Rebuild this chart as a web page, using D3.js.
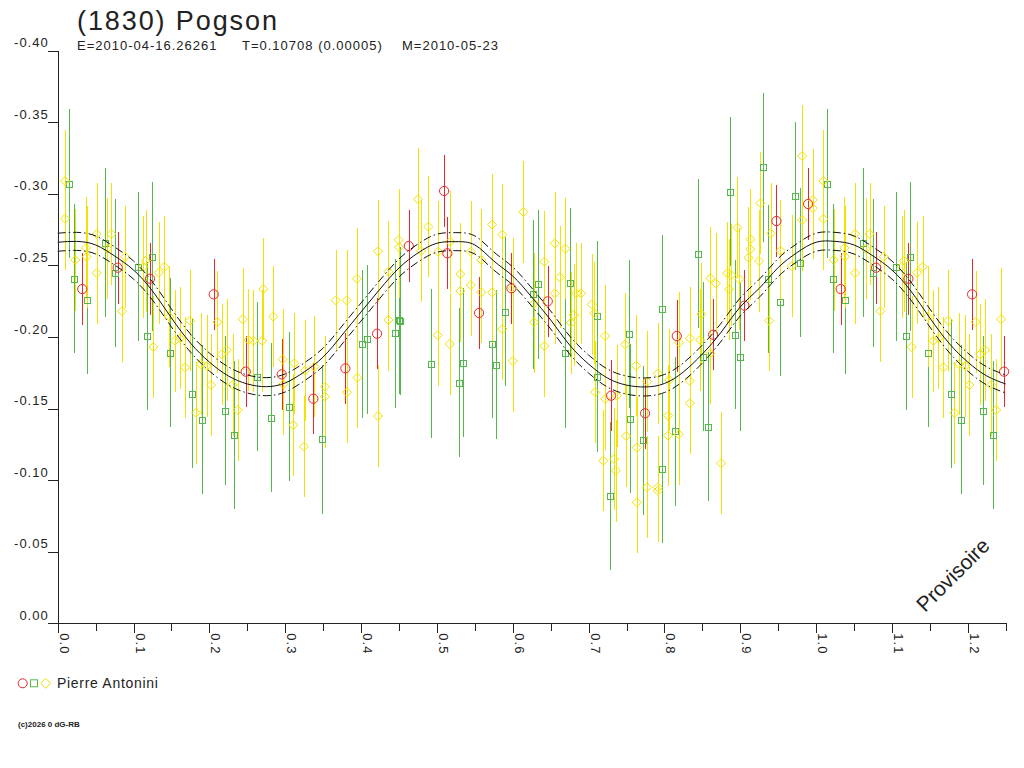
<!DOCTYPE html>
<html>
<head>
<meta charset="utf-8">
<script src="https://cdn.jsdelivr.net/npm/d3@7"></script>
<style>
body { margin: 0; background: #fff; }
text { font-family: "Liberation Sans", Arial, sans-serif; fill: #222; }
</style>
</head>
<body>
<div id="chart"></div>
<script>

const titleText = "(1830) Pogson";
const subtitleParts = ["E=2010-04-16.26261", "T=0.10708 (0.00005)", "M=2010-05-23"];
const observerName = "Pierre Antonini";
const creditText = "(c)2026 0 dG-RB";
const stampText = "Provisoire";

// axis ticks
const xTicks = [0, 0.05, 0.1, 0.15, 0.2, 0.25, 0.3, 0.35, 0.4, 0.45, 0.5, 0.55, 0.6,
    0.65, 0.7, 0.75, 0.8, 0.85, 0.9, 0.95, 1.0, 1.05, 1.1, 1.15, 1.2, 1.25];
const yTicks = [0, -0.05, -0.10, -0.15, -0.20, -0.25, -0.30, -0.35, -0.40];

// phases below this are drawn a second time after phase 1
const repeatUntil = 0.25;

// error bar half sizes per symbol
const circleErr = 0.025;
const squareErr = 0.052;
const diamondErr = 0.0355;

// observations [phase, relative magnitude]
const circles = [
    [0.0324, -0.2335], [0.0791, -0.2484], [0.1217, -0.2407], [0.2057, -0.2298], [0.2479, -0.1758],
    [0.2954, -0.1739], [0.3371, -0.1569], [0.3793, -0.1781], [0.4211, -0.2023], [0.4629, -0.2636],
    [0.5095, -0.3020], [0.5138, -0.2585], [0.5556, -0.2168], [0.5982, -0.2340], [0.6462, -0.2249],
    [0.7297, -0.1590], [0.7745, -0.1467], [0.8163, -0.2007], [0.8642, -0.2016], [0.9055, -0.2219],
    [0.9477, -0.2810], [0.9895, -0.2929]
];

const squares = [
    [0.0149, -0.3071], [0.0219, -0.2407], [0.0382, -0.2261], [0.0624, -0.2659], [0.0756, -0.2447],
    [0.1055, -0.2491], [0.1240, -0.2561], [0.1182, -0.2007], [0.1477, -0.1890], [0.1775, -0.1604],
    [0.1907, -0.1422], [0.2202, -0.1485], [0.2329, -0.1315], [0.2632, -0.1723], [0.2809, -0.1436],
    [0.3054, -0.1513], [0.3482, -0.1285], [0.4017, -0.1951], [0.4083, -0.1984], [0.4448, -0.2026],
    [0.4501, -0.2119], [0.4514, -0.2112], [0.4919, -0.1813], [0.5349, -0.1820], [0.5296, -0.1681],
    [0.5724, -0.1953], [0.5776, -0.1807], [0.5903, -0.2177], [0.6264, -0.2298], [0.6334, -0.2368],
    [0.6686, -0.1886], [0.6756, -0.2379], [0.7112, -0.2149], [0.7116, -0.1718], [0.7288, -0.0889],
    [0.7534, -0.2021], [0.7547, -0.1429], [0.7715, -0.1280], [0.7969, -0.2194], [0.7974, -0.1080],
    [0.8145, -0.1341], [0.8448, -0.2582], [0.8506, -0.1862], [0.8572, -0.1373], [0.8870, -0.3015],
    [0.8936, -0.2016], [0.8998, -0.1862], [0.9298, -0.3185], [0.9363, -0.2405], [0.9530, -0.2247],
    [0.9719, -0.2985], [0.9785, -0.2519]
];

const diamonds = [
    [0.0096, -0.3090], [0.0096, -0.2826], [0.0232, -0.2538], [0.0373, -0.2622], [0.0382, -0.2561],
    [0.0514, -0.2720], [0.0514, -0.2447], [0.0654, -0.2617], [0.0707, -0.2720], [0.0892, -0.2561],
    [0.0848, -0.2180], [0.1161, -0.2533], [0.1129, -0.2491], [0.1261, -0.1930], [0.1332, -0.2449],
    [0.1406, -0.2491], [0.1472, -0.2142], [0.1547, -0.1974], [0.1613, -0.1991], [0.1679, -0.1788],
    [0.1745, -0.2114], [0.1824, -0.1471], [0.1886, -0.1811], [0.1965, -0.1797], [0.2022, -0.1665],
    [0.2105, -0.2105], [0.2163, -0.1879], [0.2229, -0.1909], [0.2308, -0.1665], [0.2374, -0.1490],
    [0.2440, -0.2124], [0.2514, -0.1979], [0.2580, -0.1974], [0.2711, -0.2335], [0.2698, -0.1974],
    [0.2843, -0.2142], [0.2967, -0.1844], [0.2975, -0.1670], [0.3107, -0.1385], [0.3120, -0.1816],
    [0.3248, -0.1234], [0.3261, -0.1765], [0.3384, -0.1793], [0.3525, -0.1653], [0.3525, -0.1583],
    [0.3666, -0.2256], [0.3811, -0.2256], [0.3815, -0.1614], [0.3947, -0.2407], [0.3951, -0.1716],
    [0.4224, -0.2599], [0.4224, -0.1448], [0.4360, -0.2456], [0.4360, -0.2119], [0.4497, -0.2678],
    [0.4501, -0.2627], [0.4752, -0.2962], [0.4791, -0.2601], [0.4888, -0.2771], [0.5011, -0.2012],
    [0.5019, -0.2596], [0.5174, -0.2666], [0.5170, -0.1951], [0.5309, -0.2440], [0.5309, -0.2321],
    [0.5447, -0.2596], [0.5447, -0.2363], [0.5586, -0.2538], [0.5586, -0.2312], [0.5728, -0.2785],
    [0.5728, -0.2312], [0.5863, -0.2715], [0.5863, -0.2056], [0.6001, -0.2340], [0.6001, -0.1832],
    [0.6140, -0.2875], [0.6281, -0.2235], [0.6281, -0.2103], [0.6417, -0.2526], [0.6417, -0.1937],
    [0.6554, -0.2655], [0.6554, -0.2305], [0.6620, -0.2417], [0.6694, -0.2617], [0.6769, -0.2100],
    [0.6805, -0.2154], [0.6839, -0.2305], [0.6901, -0.2305], [0.7042, -0.2228], [0.7077, -0.2166],
    [0.7086, -0.1614], [0.7218, -0.2007], [0.7218, -0.1567], [0.7372, -0.1590], [0.7195, -0.1136],
    [0.7336, -0.1148], [0.7359, -0.1066], [0.7482, -0.1949], [0.7495, -0.1308], [0.7627, -0.1800],
    [0.7636, -0.1227], [0.7636, -0.0845], [0.7772, -0.1688], [0.7772, -0.0950], [0.7913, -0.1746],
    [0.7913, -0.0950], [0.7913, -0.0926], [0.8049, -0.1450], [0.8049, -0.1311], [0.8062, -0.1700],
    [0.8194, -0.1960], [0.8190, -0.1320], [0.8335, -0.1991], [0.8335, -0.1693], [0.8335, -0.1537],
    [0.8471, -0.1979], [0.8488, -0.2159], [0.8606, -0.2410], [0.8606, -0.1886], [0.8678, -0.2375],
    [0.8748, -0.1118], [0.8827, -0.2445], [0.8853, -0.2333], [0.8879, -0.2433], [0.8963, -0.2764],
    [0.8989, -0.2403], [0.9108, -0.2554], [0.9134, -0.2682], [0.9134, -0.2613], [0.9249, -0.2531],
    [0.9266, -0.2934], [0.9381, -0.2114], [0.9403, -0.2724], [0.9530, -0.2603], [0.9680, -0.2496],
    [0.9816, -0.3264], [0.9816, -0.2817], [0.9957, -0.2957], [0.9957, -0.2899]
];

// fitted lightcurve, sampled every 0.025 in phase from 0 to 1
const fitStep = 0.025;
const fitMag = [
    -0.2662, -0.2668, -0.2643, -0.2566, -0.2468, -0.2321, -0.2133, -0.1958, -0.1825, -0.1728,
    -0.1672, -0.1653, -0.1679, -0.1756, -0.1860, -0.2014, -0.2175, -0.2335, -0.2482, -0.2587,
    -0.2655, -0.2666, -0.2643, -0.2531, -0.2426, -0.2279, -0.2119, -0.1944, -0.1811, -0.1713,
    -0.1664, -0.1651, -0.1675, -0.1756, -0.1881, -0.2035, -0.2210, -0.2340, -0.2485, -0.2590,
    -0.2662
];
const fitBand = 0.0063;

const width = 1024;
const height = 768;

const colors = {
    circle: "#e8262c",
    square: "#55b84c",
    diamond: "#f2e200"
};

const svg = d3.select("#chart")
    .append("svg")
    .attr("width", width)
    .attr("height", height);

const x = d3.scaleLinear()
    .domain([0, 1.25])
    .range([57.7, 1005.7]);

const y = d3.scaleLinear()
    .domain([0, -0.40])
    .range([623.3, 50.7]);

// copy early phases past 1
function extend(points) {
    const out = [];
    points.forEach(function(p) {
        out.push({ phase: p[0], mag: p[1] });
        if (p[0] <= repeatUntil) {
            out.push({ phase: p[0] + 1, mag: p[1] });
        }
    });
    return out;
}

const circlePts = extend(circles);
const squarePts = extend(squares);
const diamondPts = extend(diamonds);

// title
svg.append("text")
    .attr("x", 77)
    .attr("y", 30)
    .style("font-size", "27px")
    .style("letter-spacing", "1.9px")
    .text(titleText);

const subX = [77, 242, 402];
subtitleParts.forEach(function(s, i) {
    svg.append("text")
        .attr("x", subX[i])
        .attr("y", 50)
        .style("font-size", "13px")
        .style("letter-spacing", "1px")
        .text(s);
});

// error bars + symbols
const plot = svg.append("g");

function drawBars(pts, err, color) {
    plot.append("g")
        .selectAll("line")
        .data(pts)
        .enter()
        .append("line")
        .attr("x1", d => Math.round(x(d.phase)) + 0.5)
        .attr("x2", d => Math.round(x(d.phase)) + 0.5)
        .attr("y1", d => y(d.mag - err))
        .attr("y2", d => y(d.mag + err))
        .attr("stroke", color)
        .attr("stroke-width", 1)
        .attr("shape-rendering", "crispEdges");
}

drawBars(squarePts, squareErr, colors.square);
drawBars(diamondPts, diamondErr, colors.diamond);
drawBars(circlePts, circleErr, colors.circle);

plot.append("g")
    .selectAll("rect")
    .data(squarePts)
    .enter()
    .append("rect")
    .attr("x", d => Math.round(x(d.phase)) - 3)
    .attr("y", d => Math.round(y(d.mag)) - 3)
    .attr("width", 6)
    .attr("height", 6)
    .attr("fill", "none")
    .attr("stroke", colors.square)
    .attr("shape-rendering", "crispEdges");

plot.append("g")
    .selectAll("path")
    .data(diamondPts)
    .enter()
    .append("path")
    .attr("transform", d => "translate(" + x(d.phase) + "," + y(d.mag) + ")")
    .attr("d", "M0,-4.5L4.5,0L0,4.5L-4.5,0Z")
    .attr("fill", "none")
    .attr("stroke", colors.diamond);

plot.append("g")
    .selectAll("circle")
    .data(circlePts)
    .enter()
    .append("circle")
    .attr("cx", d => x(d.phase))
    .attr("cy", d => y(d.mag))
    .attr("r", 4.6)
    .attr("fill", "none")
    .attr("stroke", colors.circle);

// fit curve and its band
const fitPts = [];
fitMag.forEach(function(m, i) {
    fitPts.push({ phase: i * fitStep, mag: m });
});
fitMag.forEach(function(m, i) {
    const p = i * fitStep;
    if (i > 0 && p <= repeatUntil + 1e-9) {
        fitPts.push({ phase: p + 1, mag: m });
    }
});

function fitLine(offset) {
    return d3.line()
        .x(d => x(d.phase))
        .y(d => y(d.mag + offset))
        .curve(d3.curveNatural);
}

svg.append("path")
    .datum(fitPts)
    .attr("d", fitLine(0))
    .attr("fill", "none")
    .attr("stroke", "#111")
    .attr("stroke-width", 1);

[-fitBand, fitBand].forEach(function(off) {
    svg.append("path")
        .datum(fitPts)
        .attr("d", fitLine(off))
        .attr("fill", "none")
        .attr("stroke", "#111")
        .attr("stroke-width", 1)
        .attr("stroke-dasharray", "8,3,1.5,3");
});

// axes
const yAxis = d3.axisLeft(y)
    .tickValues(yTicks)
    .tickSize(10)
    .tickSizeOuter(0)
    .tickFormat(d => d.toFixed(2));

const gy = svg.append("g")
    .attr("transform", "translate(" + x(0) + ",0)")
    .attr("color", "#222")
    .call(yAxis);

gy.selectAll("text")
    .attr("x", -9)
    .attr("y", -4)
    .attr("dy", null)
    .style("font-size", "13px")
    .style("letter-spacing", "1px");

function isMajor(d) {
    return Math.round(d * 100) % 10 === 0;
}

const xAxis = d3.axisBottom(x)
    .tickValues(xTicks)
    .tickSize(8)
    .tickSizeOuter(0)
    .tickFormat(d => isMajor(d) ? d.toFixed(1) : "");

const gx = svg.append("g")
    .attr("transform", "translate(0," + y(0) + ")")
    .attr("color", "#222")
    .call(xAxis);

gx.selectAll(".tick line")
    .attr("y2", d => isMajor(d) ? 10 : 8);

gx.selectAll("text")
    .attr("transform", "rotate(90)")
    .attr("x", 10)
    .attr("y", -1.5)
    .attr("dy", null)
    .style("text-anchor", "start")
    .style("font-size", "13px")
    .style("letter-spacing", "1px");

gx.selectAll("path, line").attr("shape-rendering", "crispEdges");
gy.selectAll("path, line").attr("shape-rendering", "crispEdges");

// stamp
svg.append("text")
    .attr("transform", "translate(925,613) rotate(-45)")
    .style("font-size", "21px")
    .text(stampText);

// legend
const legendY = 683.3;

svg.append("circle")
    .attr("cx", 22.7)
    .attr("cy", legendY)
    .attr("r", 4.5)
    .attr("fill", "none")
    .attr("stroke", colors.circle);

svg.append("rect")
    .attr("x", 30.5)
    .attr("y", legendY - 3.5)
    .attr("width", 7)
    .attr("height", 7)
    .attr("fill", "none")
    .attr("stroke", colors.square);

svg.append("path")
    .attr("transform", "translate(45.7," + legendY + ")")
    .attr("d", "M0,-5L5,0L0,5L-5,0Z")
    .attr("fill", "none")
    .attr("stroke", colors.diamond);

svg.append("text")
    .attr("x", 57)
    .attr("y", 688)
    .style("font-size", "14px")
    .style("letter-spacing", "0.7px")
    .text(observerName);

svg.append("text")
    .attr("x", 18)
    .attr("y", 727)
    .style("font-size", "8px")
    .style("font-weight", "bold")
    .text(creditText);

</script>
</body>
</html>
